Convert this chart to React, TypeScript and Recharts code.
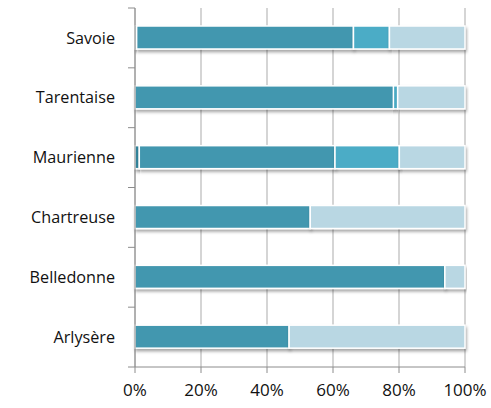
import { BarChart, Bar, XAxis, YAxis, CartesianGrid } from 'recharts';

const categories = ['Savoie', 'Tarentaise', 'Maurienne', 'Chartreuse', 'Belledonne', 'Arlysère'];
const darkShare = [0.5, 0, 1.3, 0, 0, 0];
const mainShare = [65.7, 78.3, 59.3, 53.1, 93.9, 46.7];
const lightShare = [10.9, 1.3, 19.5, 0, 0, 0];
const paleShare = [22.9, 20.4, 19.9, 46.9, 6.1, 53.3];
const xTicks = [0, 20, 40, 60, 80, 100];

const data = categories.map((name, i) => ({
  name,
  dark: darkShare[i],
  main: mainShare[i],
  light: lightShare[i],
  pale: paleShare[i],
}));

const W = 491;
const H = 408;
const M = { top: 8, right: 26, bottom: 0, left: 0 };
const X_AXIS_H = 41;
const band = (H - M.top - M.bottom - X_AXIS_H) / categories.length;

const CategoryTick = (props: any) => {
  const { x, y, payload, index } = props;
  const axisX = x + 20;
  const top = y - band / 2;
  return (
    <g>
      <line x1={axisX - 7} x2={axisX} y1={top} y2={top} stroke="#8C8C8C" />
      {index === categories.length - 1 && (
        <line x1={axisX - 7} x2={axisX} y1={top + band} y2={top + band} stroke="#8C8C8C" />
      )}
      <text x={x} y={y} dy="0.35em" textAnchor="end" fill="#111" fontSize={16.2}>
        {payload.value}
      </text>
    </g>
  );
};

const ShadowBar = (props: any) => {
  const { x, y, width, height, fill } = props;
  if (!width || width <= 0) return null;
  return (
    <rect x={x} y={y} width={width} height={height} fill={fill} stroke="#fff" strokeWidth={1.5} filter="url(#barShadow)" />
  );
};

const App = () => (
  <div style={{ position: 'absolute', left: 0, top: 0, fontFamily: '"Open Sans", sans-serif' }}>
    <svg width={0} height={0} style={{ position: 'absolute' }}>
      <defs>
        <filter id="barShadow" x="-5%" y="-30%" width="110%" height="180%">
          <feDropShadow dx={1} dy={2.5} stdDeviation={1.5} floodColor="#000" floodOpacity={0.35} />
        </filter>
      </defs>
    </svg>
    <BarChart width={W} height={H} data={data} layout="vertical" margin={M} barSize={23}>
      <CartesianGrid horizontal={false} stroke="#ABABAB" />
      <XAxis
        type="number"
        domain={[0, 100]}
        ticks={xTicks}
        tickFormatter={(v) => `${v}%`}
        stroke="#8C8C8C"
        height={X_AXIS_H}
        tickSize={6}
        tickMargin={11}
        tick={{ fill: '#111', fontSize: 17 }}
        interval={0}
      />
      <YAxis
        type="category"
        dataKey="name"
        width={135}
        stroke="#8C8C8C"
        tickLine={false}
        tickSize={7}
        tickMargin={13}
        tick={<CategoryTick />}
        interval={0}
      />
      <Bar dataKey="dark" stackId="s" fill="#31849B" shape={<ShadowBar />} isAnimationActive={false} />
      <Bar dataKey="main" stackId="s" fill="#4397AF" shape={<ShadowBar />} isAnimationActive={false} />
      <Bar dataKey="light" stackId="s" fill="#4BACC6" shape={<ShadowBar />} isAnimationActive={false} />
      <Bar dataKey="pale" stackId="s" fill="#B9D7E3" shape={<ShadowBar />} isAnimationActive={false} />
    </BarChart>
  </div>
);

export default App;
